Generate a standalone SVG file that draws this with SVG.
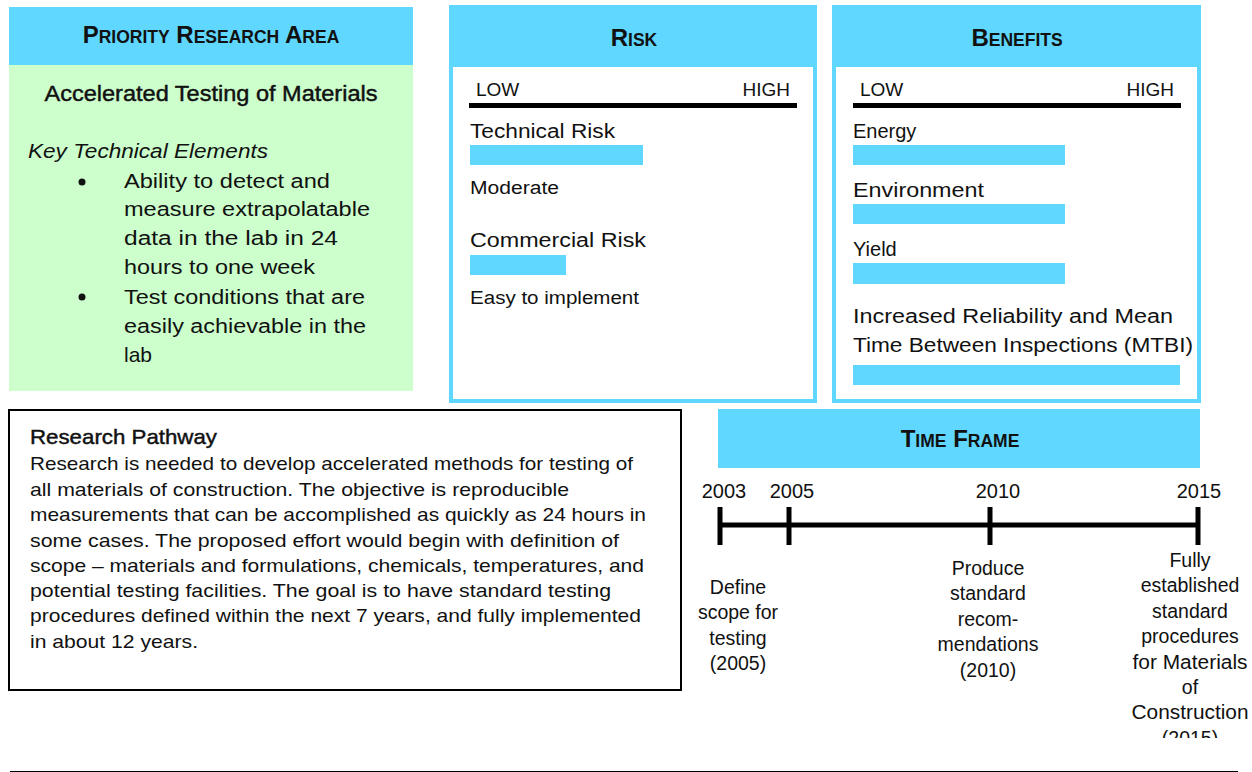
<svg xmlns="http://www.w3.org/2000/svg" width="1252" height="772" viewBox="0 0 1252 772">
  <defs>
    <style>
      text { font-family: "Liberation Sans", Arial, sans-serif; fill: #111; }
      .hdr { fill: #5fd7ff; }
      .bar { fill: #5fd7ff; }
      .title { font-weight: bold; font-size: 24px; text-anchor: middle; }
      .title tspan.sc { font-size: 17.5px; }
      .med { stroke: #111; stroke-width: 0.45px; }
      .lbl { font-size: 20px; }
      .small { font-size: 18px; }
      .scale { font-size: 19px; }
      .body { font-size: 19px; }
      .tl { font-size: 19.5px; text-anchor: middle; }
      .rule { stroke: #000; stroke-width: 5; }
    </style>
    <clipPath id="tlClip">
      <rect x="680" y="470" width="572" height="268"/>
    </clipPath>
  </defs>

  <!-- Priority research area -->
  <g id="priority-area">
    <rect class="hdr" x="9" y="7" width="404" height="58"/>
    <rect x="9" y="65" width="404" height="326" fill="#ccffcc"/>
    <text class="title" x="211" y="43">P<tspan class="sc">RIORITY</tspan> R<tspan class="sc">ESEARCH</tspan> A<tspan class="sc">REA</tspan></text>
    <text class="med" x="211" y="101" text-anchor="middle" font-size="22" textLength="333" lengthAdjust="spacingAndGlyphs">Accelerated Testing of Materials</text>
    <text x="28" y="158" font-size="20" font-style="italic" textLength="240" lengthAdjust="spacingAndGlyphs">Key Technical Elements</text>
    <circle cx="82" cy="182" r="3.5" fill="#111"/>
    <circle cx="82" cy="297" r="3.5" fill="#111"/>
    <g class="lbl">
      <text x="124" y="188" textLength="206" lengthAdjust="spacingAndGlyphs">Ability to detect and</text>
      <text x="124" y="216" textLength="246" lengthAdjust="spacingAndGlyphs">measure extrapolatable</text>
      <text x="124" y="245" textLength="214" lengthAdjust="spacingAndGlyphs">data in the lab in 24</text>
      <text x="124" y="274" textLength="191" lengthAdjust="spacingAndGlyphs">hours to one week</text>
      <text x="124" y="304" textLength="241" lengthAdjust="spacingAndGlyphs">Test conditions that are</text>
      <text x="124" y="333" textLength="242" lengthAdjust="spacingAndGlyphs">easily achievable in the</text>
      <text x="124" y="362" font-size="21">lab</text>
    </g>
  </g>

  <!-- Risk panel -->
  <g id="risk">
    <rect x="451" y="7" width="364" height="394" fill="#fff" stroke="#5fd7ff" stroke-width="4"/>
    <rect class="hdr" x="449" y="5" width="368" height="62"/>
    <text class="title" x="634" y="46">R<tspan class="sc">ISK</tspan></text>
    <text class="scale" x="476" y="96">LOW</text>
    <text class="scale" x="790" y="96" text-anchor="end">HIGH</text>
    <line class="rule" x1="469" y1="105.5" x2="797" y2="105.5"/>
    <text class="lbl" x="470" y="138" textLength="145" lengthAdjust="spacingAndGlyphs">Technical Risk</text>
    <rect class="bar" x="470" y="145" width="173" height="20"/>
    <text class="small" x="470" y="194" textLength="89" lengthAdjust="spacingAndGlyphs">Moderate</text>
    <text class="lbl" x="470" y="247" textLength="176" lengthAdjust="spacingAndGlyphs">Commercial Risk</text>
    <rect class="bar" x="470" y="255" width="96" height="20"/>
    <text class="small" x="470" y="304" textLength="169" lengthAdjust="spacingAndGlyphs">Easy to implement</text>
  </g>

  <!-- Benefits panel -->
  <g id="benefits">
    <rect x="834" y="7" width="365" height="394" fill="#fff" stroke="#5fd7ff" stroke-width="4"/>
    <rect class="hdr" x="832" y="5" width="369" height="62"/>
    <text class="title" x="1017" y="46">B<tspan class="sc">ENEFITS</tspan></text>
    <text class="scale" x="860" y="96">LOW</text>
    <text class="scale" x="1174" y="96" text-anchor="end">HIGH</text>
    <line class="rule" x1="853" y1="105.5" x2="1181" y2="105.5"/>
    <text class="lbl" x="853" y="138" font-size="21">Energy</text>
    <rect class="bar" x="853" y="145" width="212" height="20"/>
    <text class="lbl" x="853" y="197" textLength="131" lengthAdjust="spacingAndGlyphs">Environment</text>
    <rect class="bar" x="853" y="204" width="212" height="20"/>
    <text class="lbl" x="853" y="256" font-size="21">Yield</text>
    <rect class="bar" x="853" y="263" width="212" height="21"/>
    <text class="lbl" x="853" y="323" textLength="320" lengthAdjust="spacingAndGlyphs">Increased Reliability and Mean</text>
    <text class="lbl" x="853" y="352" textLength="340" lengthAdjust="spacingAndGlyphs">Time Between Inspections (MTBI)</text>
    <rect class="bar" x="853" y="365" width="327" height="20"/>
  </g>

  <!-- Research pathway -->
  <g id="research-pathway">
    <rect x="9" y="410" width="672" height="280" fill="#fff" stroke="#000" stroke-width="2"/>
    <text class="med" x="30" y="444" font-size="21" textLength="187" lengthAdjust="spacingAndGlyphs">Research Pathway</text>
    <g class="body" xml:space="preserve">
      <text x="30" y="470" textLength="603" lengthAdjust="spacingAndGlyphs">Research is needed to develop accelerated methods for testing of</text>
      <text x="30" y="496" textLength="539" lengthAdjust="spacingAndGlyphs">all materials of construction.  The objective is reproducible</text>
      <text x="30" y="521" textLength="616" lengthAdjust="spacingAndGlyphs">measurements that can be accomplished as quickly as 24 hours in</text>
      <text x="30" y="547" textLength="589" lengthAdjust="spacingAndGlyphs">some cases.  The proposed effort would begin with definition of</text>
      <text x="30" y="572" textLength="614" lengthAdjust="spacingAndGlyphs">scope – materials and formulations, chemicals, temperatures, and</text>
      <text x="30" y="597" textLength="581" lengthAdjust="spacingAndGlyphs">potential testing facilities.   The goal is to have standard testing</text>
      <text x="30" y="622" textLength="611" lengthAdjust="spacingAndGlyphs">procedures defined within the next 7 years, and fully implemented</text>
      <text x="30" y="648" textLength="168" lengthAdjust="spacingAndGlyphs">in about 12 years.</text>
    </g>
  </g>

  <!-- Time frame header -->
  <g id="time-frame">
    <rect class="hdr" x="718" y="409" width="482" height="59"/>
    <text class="title" x="960" y="447">T<tspan class="sc">IME</tspan> F<tspan class="sc">RAME</tspan></text>
  </g>

  <!-- Timeline axis and ticks -->
  <g id="connectors">
    <line class="rule" x1="718" y1="525" x2="1200" y2="525"/>
    <line class="rule" x1="720" y1="507" x2="720" y2="545"/>
    <line class="rule" x1="789" y1="507" x2="789" y2="545"/>
    <line class="rule" x1="990" y1="507" x2="990" y2="545"/>
    <line class="rule" x1="1198" y1="507" x2="1198" y2="545"/>
  </g>

  <g id="years" class="tl">
    <text x="724" y="498" font-size="20">2003</text>
    <text x="792" y="498" font-size="20">2005</text>
    <text x="998" y="498" font-size="20">2010</text>
    <text x="1199" y="498" font-size="20">2015</text>
  </g>

  <g id="milestone-2005" class="tl">
    <text x="738" y="594">Define</text>
    <text x="738" y="619">scope for</text>
    <text x="738" y="645">testing</text>
    <text x="738" y="670">(2005)</text>
  </g>

  <g id="milestone-2010" class="tl">
    <text x="988" y="575">Produce</text>
    <text x="988" y="600">standard</text>
    <text x="988" y="626">recom-</text>
    <text x="988" y="651">mendations</text>
    <text x="988" y="677">(2010)</text>
  </g>

  <g id="milestone-2015" class="tl" clip-path="url(#tlClip)">
    <text x="1190" y="567">Fully</text>
    <text x="1190" y="592">established</text>
    <text x="1190" y="618">standard</text>
    <text x="1190" y="643">procedures</text>
    <text x="1190" y="669" textLength="115" lengthAdjust="spacingAndGlyphs">for Materials</text>
    <text x="1190" y="694">of</text>
    <text x="1190" y="719" textLength="117" lengthAdjust="spacingAndGlyphs">Construction</text>
    <text x="1190" y="745">(2015)</text>
  </g>

  <line x1="10" y1="771.5" x2="1238" y2="771.5" stroke="#000" stroke-width="1"/>
</svg>
